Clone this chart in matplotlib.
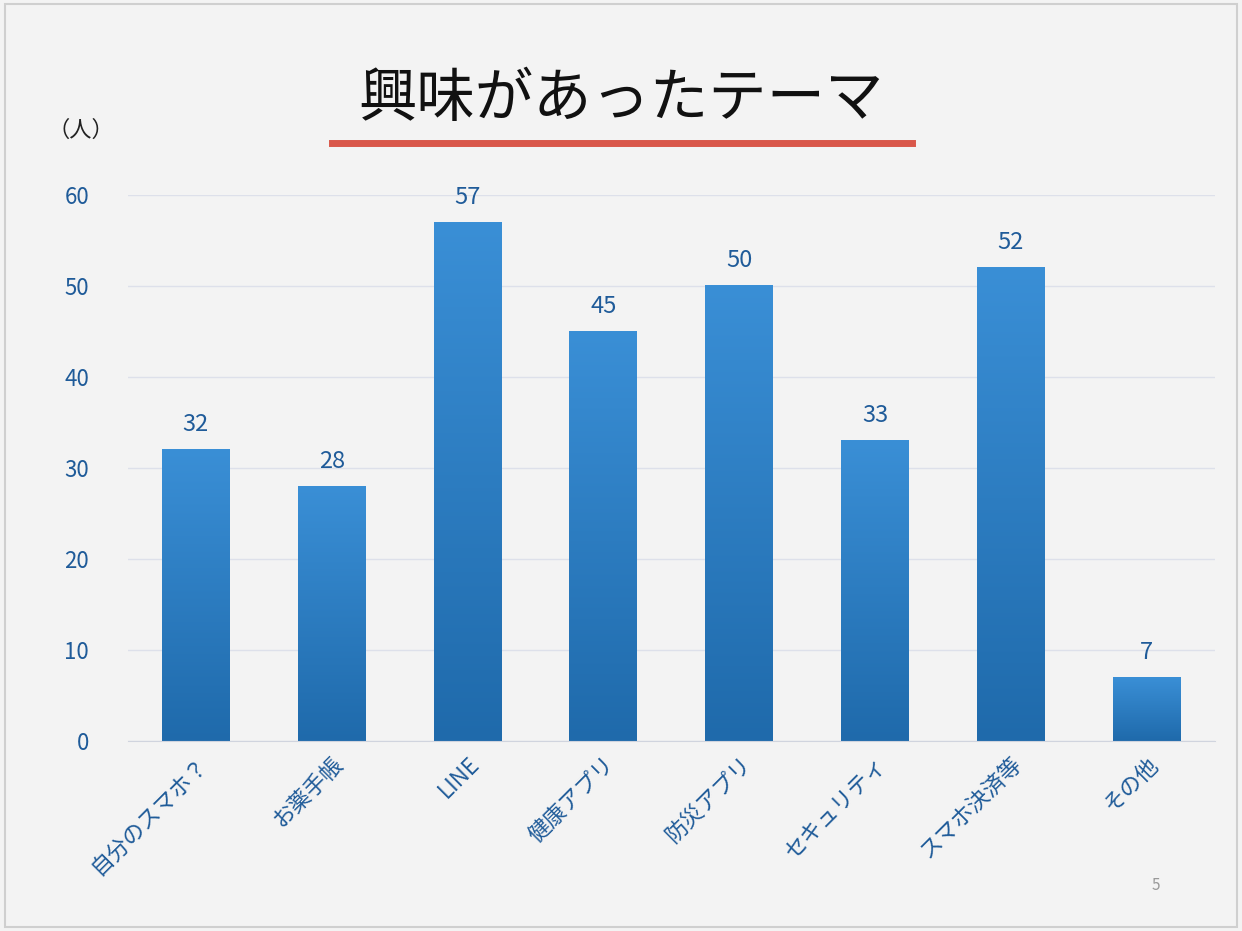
import matplotlib
matplotlib.use("Agg")
import matplotlib.pyplot as plt
import numpy as np
from matplotlib.patches import Rectangle

plt.rcParams["font.family"] = "Noto Sans CJK JP"

categories = ["自分のスマホ？", "お薬手帳", "LINE", "健康アプリ", "防災アプリ", "セキュリティ", "スマホ決済等", "その他"]
values = [32, 28, 57, 45, 50, 33, 52, 7]
yticks = [0, 10, 20, 30, 40, 50, 60]

fig = plt.figure(figsize=(12.42, 9.31), dpi=100)
fig.patch.set_facecolor("#f3f3f3")
fig.patches.append(Rectangle((0.004, 0.004), 0.992, 0.992, transform=fig.transFigure,
                             fill=False, edgecolor="#cfcfcf", lw=1.5))

ax = fig.add_axes([0.103, 0.204, 0.875, 0.5865])
ax.set_facecolor("#f3f3f3")
ax.set_xlim(-0.5, 7.5)
ax.set_ylim(0, 60)
ax.set_yticks(yticks)
ax.grid(axis="y", color="#dde0ea", lw=1)
ax.set_axisbelow(True)
for s in ["top", "right", "left"]:
    ax.spines[s].set_visible(False)
ax.spines["bottom"].set_color("#d0d4de")

tc = "#1f5b99"
grad = np.linspace(0, 1, 256).reshape(-1, 1)
cmap = matplotlib.colors.LinearSegmentedColormap.from_list("g", ["#1f6aab", "#3a8fd6"])
w = 0.5
for i, v in enumerate(values):
    ax.imshow(grad, extent=[i - w / 2, i + w / 2, 0, v], origin="lower", cmap=cmap,
              aspect="auto", zorder=2)
    ax.text(i, v + 1.5, str(v), ha="center", va="bottom", fontsize=17, color=tc)
ax.set_xlim(-0.5, 7.5)
ax.set_ylim(0, 60)

ax.set_xticks(range(len(categories)))
ax.set_xticklabels(categories, rotation=45, ha="right", rotation_mode="anchor",
                   fontsize=16, color=tc)
ax.tick_params(axis="x", length=0, pad=8)
ax.tick_params(axis="y", length=0, labelsize=16, labelcolor=tc, pad=28)

fig.text(0.5, 0.893, "興味があったテーマ", ha="center", va="center", fontsize=42, color="#111111")
fig.lines.append(plt.Line2D([0.267, 0.734], [0.846, 0.846], transform=fig.transFigure,
                            color="#d9574a", lw=5))
fig.text(0.065, 0.86, "（人）", ha="center", va="center", fontsize=16, color="#222222")
fig.text(0.931, 0.049, "5", ha="center", va="center", fontsize=11, color="#999999")

fig.savefig("out.png", dpi=100, facecolor=fig.get_facecolor())
